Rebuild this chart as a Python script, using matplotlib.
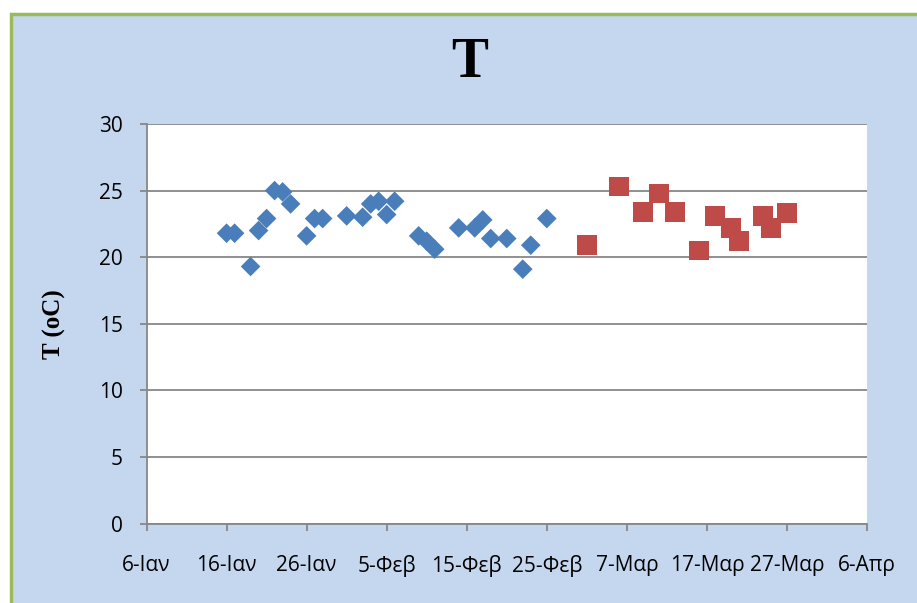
import datetime as dt
import matplotlib
matplotlib.use("Agg")
import matplotlib.pyplot as plt
from matplotlib.patches import Rectangle

# blue series (date, T)
blue_dates = ["2013-01-16", "2013-01-17", "2013-01-19", "2013-01-20", "2013-01-21",
              "2013-01-22", "2013-01-23", "2013-01-24", "2013-01-26", "2013-01-27",
              "2013-01-28", "2013-01-31", "2013-02-02", "2013-02-03", "2013-02-04",
              "2013-02-05", "2013-02-06", "2013-02-09", "2013-02-10", "2013-02-11",
              "2013-02-14", "2013-02-16", "2013-02-17", "2013-02-18", "2013-02-20",
              "2013-02-22", "2013-02-23", "2013-02-25"]
blue_T = [21.8, 21.8, 19.3, 22.0, 22.9,
          25.0, 24.9, 24.0, 21.6, 22.9,
          22.9, 23.1, 23.0, 24.0, 24.2,
          23.2, 24.2, 21.6, 21.2, 20.6,
          22.2, 22.2, 22.8, 21.4, 21.4,
          19.1, 20.9, 22.9]

# red series
red_dates = ["2013-03-02", "2013-03-06", "2013-03-09", "2013-03-11", "2013-03-13",
             "2013-03-16", "2013-03-18", "2013-03-20", "2013-03-21", "2013-03-24",
             "2013-03-25", "2013-03-27"]
red_T = [20.9, 25.3, 23.4, 24.8, 23.4,
         20.5, 23.1, 22.2, 21.2, 23.1,
         22.2, 23.3]

tick_dates = ["2013-01-06", "2013-01-16", "2013-01-26", "2013-02-05", "2013-02-15",
              "2013-02-25", "2013-03-07", "2013-03-17", "2013-03-27", "2013-04-06"]
tick_labels = ["6-Ιαν", "16-Ιαν", "26-Ιαν", "5-Φεβ", "15-Φεβ",
               "25-Φεβ", "7-Μαρ", "17-Μαρ", "27-Μαρ", "6-Απρ"]
yticks = [0, 5, 10, 15, 20, 25, 30]

def to_dates(lst):
    return [dt.datetime.strptime(s, "%Y-%m-%d") for s in lst]

fig = plt.figure(figsize=(9.17, 6.03), dpi=100)
fig.patch.set_facecolor("white")
# chart area background with green border
bg = Rectangle((11/917, -0.05), 1.0, 1 - 14/603 + 0.05,
               transform=fig.transFigure, facecolor="#c4d7ef",
               edgecolor="#9bbb59", linewidth=2.5, zorder=-10)
fig.patches.append(bg)

ax = fig.add_axes([146.5/917, 1 - 523.5/603, 720.5/917, 399.5/603])
ax.set_zorder(1)
ax.set_facecolor("white")
ax.scatter(to_dates(blue_dates), blue_T, marker="D", s=10**2, color="#4a7ebb",
           edgecolors="none", zorder=3, clip_on=False)
ax.scatter(to_dates(red_dates), red_T, marker="s", s=14**2, color="#be4b48",
           edgecolors="none", zorder=3, clip_on=False)

td = to_dates(tick_dates)
ax.set_xlim(td[0], td[-1])
ax.set_xticks(td)
ax.set_xticklabels(tick_labels, fontsize=15, family="Open Sans")
ax.set_ylim(0, 30)
ax.set_yticks(yticks)
ax.set_yticklabels([str(v) for v in yticks], fontsize=15, family="Open Sans")
ax.yaxis.grid(True, color="#878787", linewidth=1.3)
ax.set_axisbelow(True)
for s in ["top", "right"]:
    ax.spines[s].set_visible(False)
for s in ["left", "bottom"]:
    ax.spines[s].set_color("#878787")
    ax.spines[s].set_linewidth(1.3)
ax.tick_params(axis="x", direction="out", length=5, color="#878787", width=1.3, pad=18)
ax.tick_params(axis="y", direction="out", length=5, color="#878787", width=1.3, pad=12)

ax.set_ylabel("T (oC)", fontsize=18, fontweight="bold", family="Liberation Serif",
              labelpad=24)
fig.text(470/917, 1 - 63/603, "T", fontsize=40, fontweight="bold",
         family="Liberation Serif", ha="center", va="center")

fig.savefig("out.png", dpi=100)
